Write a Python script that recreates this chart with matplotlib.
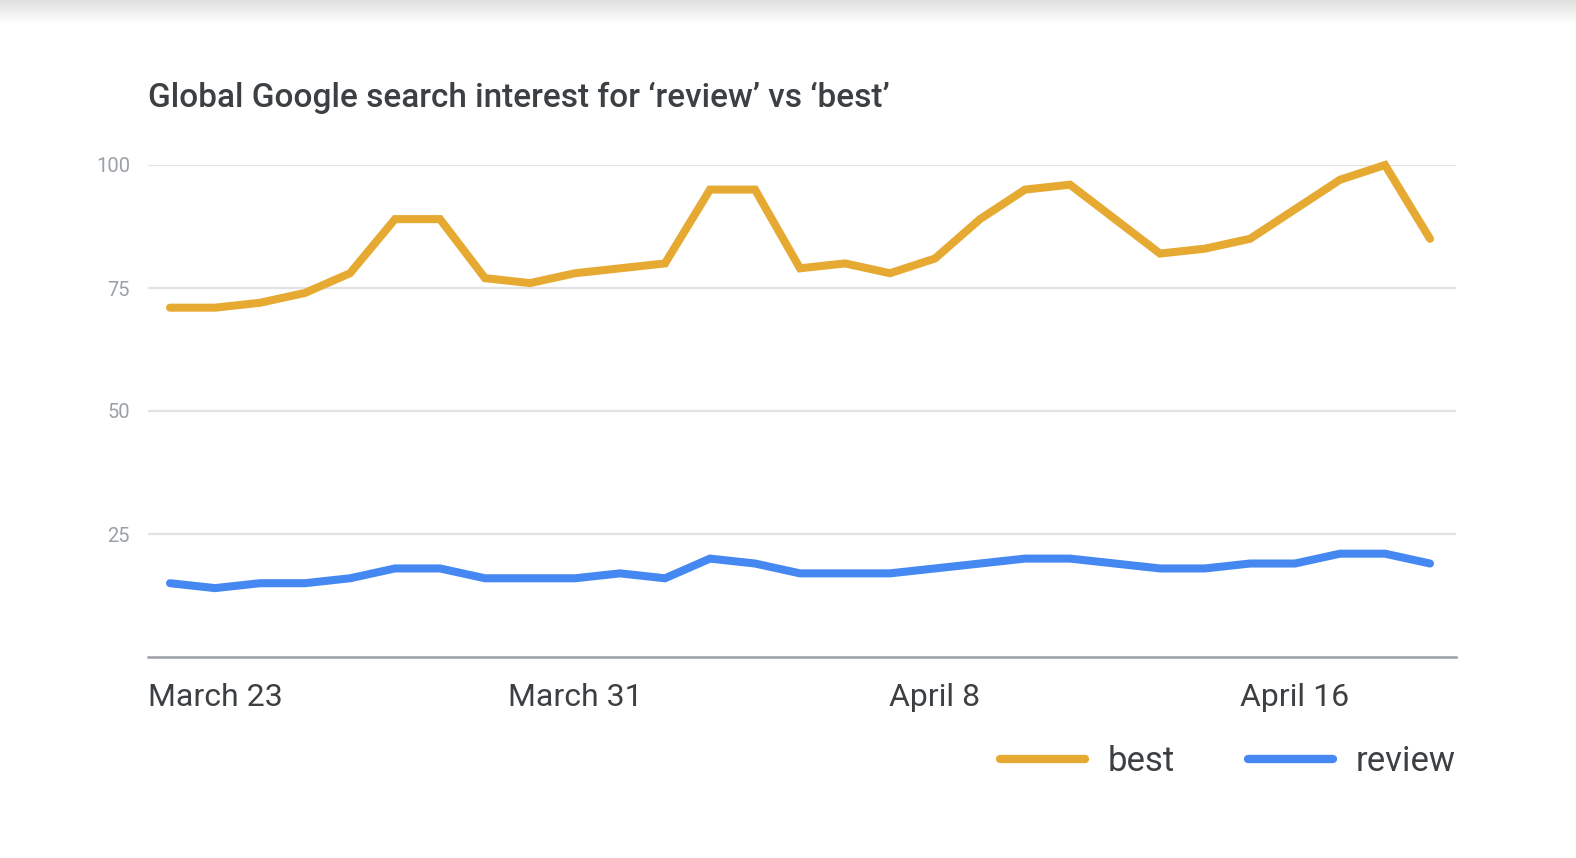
import numpy as np
import matplotlib
matplotlib.use("Agg")
from matplotlib import pyplot as plt

# daily interest, March 22 .. April 19
days = ['March 22', 'March 23', 'March 24', 'March 25', 'March 26', 'March 27', 'March 28',
        'March 29', 'March 30', 'March 31', 'April 1', 'April 2', 'April 3', 'April 4',
        'April 5', 'April 6', 'April 7', 'April 8', 'April 9', 'April 10', 'April 11',
        'April 12', 'April 13', 'April 14', 'April 15', 'April 16', 'April 17', 'April 18',
        'April 19']
best = [71, 71, 72, 74, 78, 89, 89, 77, 76, 78, 79, 80, 95, 95, 79, 80, 78, 81, 89, 95,
        96, 89, 82, 83, 85, 91, 97, 100, 85]
review = [15, 14, 15, 15, 16, 18, 18, 16, 16, 16, 17, 16, 20, 19, 17, 17, 17, 18, 19, 20,
          20, 19, 18, 18, 19, 19, 21, 21, 19]
shown_days = ['March 23', 'March 31', 'April 8', 'April 16']
y_ticks = [25, 50, 75, 100]

plt.rcParams['font.family'] = ['Roboto', 'DejaVu Sans']

W, H = 1576, 858
fig = plt.figure(figsize=(W / 100, H / 100), dpi=100)

# soft grey shadow along the top edge
shade = fig.add_axes([0, 1 - 24 / H, 1, 24 / H])
grad = np.linspace(0.875, 1.0, 64).reshape(-1, 1)
shade.imshow(grad, aspect='auto', cmap='gray', vmin=0, vmax=1, extent=(0, 1, 0, 1))
shade.axis('off')

ax = fig.add_axes([148 / W, 1 - 657 / H, (1456 - 148) / W, (657 - 165) / H])
x = np.arange(len(days))

ax.plot(x, best, color='#E6AA33', lw=5.8, label='best', solid_joinstyle='miter',
        solid_capstyle='round', clip_on=False, zorder=3)
ax.plot(x, review, color='#4688F1', lw=5.8, label='review', solid_joinstyle='miter',
        solid_capstyle='round', clip_on=False, zorder=3)

ax.set_xlim(-22 / 45, 28 + 26 / 45)
ax.set_ylim(0, 100)
ax.set_yticks(y_ticks)
ax.set_yticklabels([str(v) for v in y_ticks])
ax.set_xticks([days.index(d) for d in shown_days])
ax.set_xticklabels(shown_days)

ax.grid(axis='y', color='#e3e3e3', lw=1.6)
ax.set_axisbelow(True)
for s in ['top', 'right', 'left']:
    ax.spines[s].set_visible(False)
ax.spines['bottom'].set_color('#9aa0a6')
ax.spines['bottom'].set_linewidth(1.8)

ax.tick_params(axis='y', length=0, pad=13, labelsize=14.5, labelcolor='#9aa0a6')
ax.tick_params(axis='x', length=0, pad=19, labelsize=23, labelcolor='#3c4043')

fig.text(148 / W, 1 - 98 / H, 'Global Google search interest for \u2018review\u2019 vs \u2018best\u2019',
         fontsize=24, fontweight='medium', color='#3c4043', va='center', ha='left')

leg = ax.legend(loc='center right', bbox_to_anchor=(1.0, -0.2 - 6 / 492), ncol=2, frameon=False,
                fontsize=25, handlelength=2.45, handletextpad=0.66, columnspacing=2.1,
                borderaxespad=0, borderpad=0)
for t in leg.get_texts():
    t.set_color('#3c4043')
for h in leg.legend_handles:
    h.set_linewidth(6)

fig.savefig('out.png', dpi=100, facecolor='white')
